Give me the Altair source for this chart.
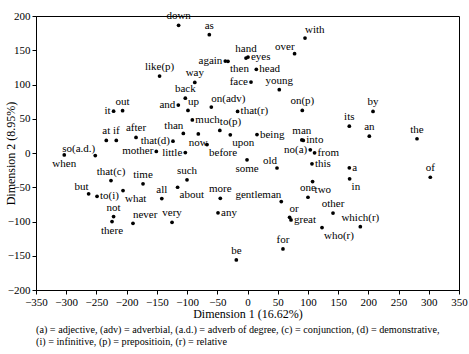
import altair as alt
import pandas as pd

words = ["down", "as", "with", "over", "hand", "eyes", "again", "then", "head",
         "like(p)", "way", "face", "young", "back", "and", "up", "on(adv)", "that(r)",
         "on(p)", "it", "out", "by", "its", "an", "the", "man", "into", "being",
         "to(p)", "much", "than", "now", "upon", "before", "little", "that(d)",
         "mother", "after", "at", "if", "so(a.d.)", "when", "old", "some", "no(a)",
         "from", "this", "a", "in", "two", "one", "other", "which(r)", "who(r)",
         "or", "great", "gentleman", "for", "be", "any", "more", "about", "such",
         "all", "time", "that(c)", "what", "to(i)", "but", "not", "there", "never",
         "very", "of"]

dim1 = [-114.0, -63.2, 95.2, 77.9, -2.5, 0.8, -36.7, -32.3, 14.6,
        -145.5, -87.2, 5.8, 52.6, -102.9, -114.5, -98.5, -59.9, -16.4,
        90.7, -221.6, -206.7, 207.7, 168.5, 201.6, 280.5, 89.9, 92.3, 15.7,
        -45.8, -91.3, -106.2, -81.4, -28.5, -67.0, -102.9, -123.3,
        -150.9, -184.5, -233.7, -217.1, -251.9, -303.2, 48.8, -0.8, 103.9,
        111.0, 106.7, 168.5, 169.0, 107.7, 100.1, 141.5, 186.7, 123.3,
        69.7, 72.0, 55.9, 58.7, -18.5, -48.8, -45.0, -115.7, -100.1,
        -141.8, -172.9, -225.9, -206.0, -249.0, -262.9, -221.6, -224.2, -189.5,
        -124.9, 302.5]

dim2 = [186.4, 172.8, 167.8, 145.0, 138.6, 140.1, 134.2, 133.8, 122.1,
        112.3, 103.1, 103.5, 92.4, 80.1, 69.9, 62.1, 67.0, 60.7,
        62.1, 61.1, 61.7, 60.7, 39.2, 24.6, 20.8, 19.0, 18.3, 27.0,
        32.9, 48.2, 28.5, 27.8, 26.6, 12.4, 0.7, 17.3,
        2.2, 22.7, 18.3, 18.3, -3.7, -2.9, -21.9, -9.9, 4.7,
        0.3, -15.8, -21.6, -37.7, -41.7, -64.6, -87.7, -107.5, -108.9,
        -93.9, -97.7, -70.9, -140.1, -156.1, -87.4, -66.1, -50.0, -39.2,
        -66.5, -45.0, -40.2, -54.8, -63.2, -59.6, -92.8, -100.1, -102.6,
        -101.2, -35.4]

# where each word's label sits relative to its point
label_side = ["t", "t", "tr", "tl", "t", "r", "l", "br", "r",
              "t", "t", "l", "t", "t", "l", "tr", "tr", "r",
              "t", "l", "t", "t", "t", "t", "t", "t", "r", "r",
              "tr", "r", "tl", "b", "br", "br", "l", "l",
              "l", "t", "t", "t", "tl", "b", "tl", "b", "l",
              "r", "r", "r", "br", "br", "t", "t", "t", "br",
              "tr", "r", "tl", "t", "t", "r", "t", "br", "t",
              "t", "t", "t", "br", "r", "tl", "t", "b", "tr",
              "t", "t"]

x_ticks = list(range(-350, 351, 50))
y_ticks = list(range(-200, 201, 50))

footnote = [
    "(a) = adjective, (adv) = adverbial, (a.d.) = adverb of degree, (c) = conjunction, (d) = demonstrative,",
    "(i) = infinitive, (p) = prepositioin, (r) = relative",
]

df = pd.DataFrame({"word": words, "dim1": dim1, "dim2": dim2, "side": label_side})

FONT = "Liberation Serif"

x = alt.X("dim1:Q",
          scale=alt.Scale(domain=[-350, 350], nice=False, zero=False),
          axis=alt.Axis(values=x_ticks, title="Dimension 1 (16.62%)",
                        titleY=18.5, titleBaseline="top", labelFlush=False,
                        labelOverlap=False))
y = alt.Y("dim2:Q",
          scale=alt.Scale(domain=[-200, 200], nice=False, zero=False),
          axis=alt.Axis(values=y_ticks, title="Dimension 2 (8.95%)",
                        titleX=-26, titleY=137, titleAngle=270,
                        titleAlign="center", titleBaseline="middle",
                        labelFlush=False, labelOverlap=False))

base = alt.Chart(df).encode(x=x, y=y)
points = base.mark_circle(size=14, color="black", opacity=1)

sides = {
    "t": dict(align="center", baseline="alphabetic", dx=0, dy=-6),
    "b": dict(align="center", baseline="top", dx=0, dy=3),
    "l": dict(align="right", baseline="middle", dx=-3, dy=0),
    "r": dict(align="left", baseline="middle", dx=3, dy=0),
    "tl": dict(align="right", baseline="alphabetic", dx=0, dy=-4),
    "tr": dict(align="left", baseline="alphabetic", dx=0, dy=-5),
    "br": dict(align="left", baseline="top", dx=2, dy=2),
}

layers = [points]
for s, opts in sides.items():
    layers.append(
        base.transform_filter(alt.datum.side == s)
        .mark_text(font=FONT, fontSize=11, color="black", **opts)
        .encode(text="word:N")
    )

chart = alt.layer(*layers).properties(
    width=423,
    height=274,
    background="white",
    autosize=alt.AutoSizeParams(type="none"),
    padding={"left": 36, "top": 16, "right": 10, "bottom": 64},
    title=alt.TitleParams(text=footnote, orient="bottom", anchor="start",
                          frame="group", font=FONT, fontSize=10.2,
                          fontWeight="normal", color="black",
                          lineHeight=12.4, offset=5),
).configure_view(
    stroke="black", strokeWidth=1
).configure_axis(
    grid=False, domainColor="black", tickColor="black", tickSize=4,
    labelColor="black", labelFont=FONT, labelFontSize=11, labelPadding=2,
    titleColor="black", titleFont=FONT, titleFontSize=12,
    titleFontWeight="normal"
)

chart.save("out.html", embed_options={"renderer": "svg", "actions": False})
